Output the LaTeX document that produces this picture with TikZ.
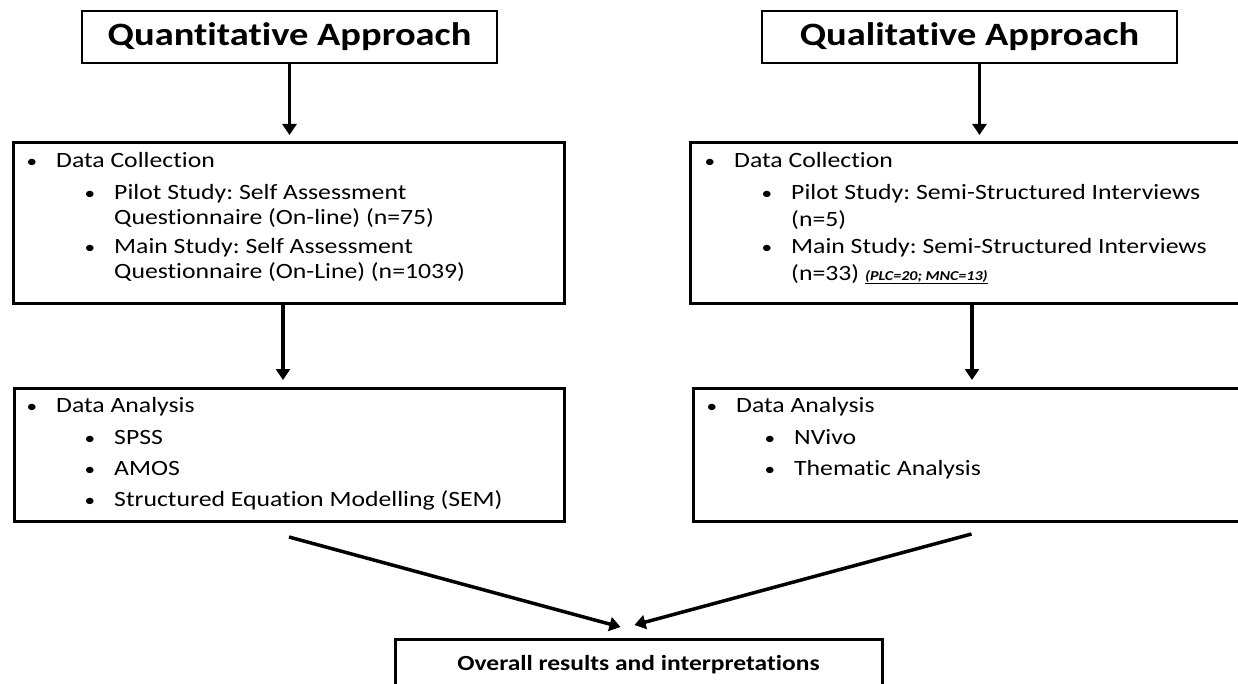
\documentclass[tikz,border=0pt]{standalone}
\usepackage{fontspec}
\setmainfont{Carlito}[FakeStretch=1.18,Ligatures=NoCommon]
\usetikzlibrary{arrows.meta}
\frenchspacing
% bullet followed by its text; #1 name, #2 text x, #3 baseline y, #4 text
\newcommand\listline[4]{%
  \node[dot] (#1-dot) at ({#2-24},#3) {•};
  \node[txt] (#1) at (#2,#3) {#4};}
\begin{document}
\begin{tikzpicture}[x=1pt,y=-1pt,
  headbox/.style={draw,line width=1.6pt,inner sep=0pt,outer sep=0pt,
    minimum width=415pt,minimum height=52pt,anchor=north west,
    font=\fontsize{32.6}{38}\selectfont\bfseries},
  listbox/.style={draw,line width=3pt,inner sep=0pt,outer sep=0pt,anchor=north west},
  txt/.style={anchor=base west,inner sep=0pt,font=\fontsize{21.8}{26}\selectfont},
  dot/.style={anchor=base,inner sep=0pt,font=\fontsize{18}{22}\selectfont},
  flow/.style={line width=3.5pt,-{Triangle[width=14pt,length=11pt]}}
]
\useasboundingbox (0,0) rectangle (1238,684);

% heading boxes
\node[headbox] (qnh) at (82,11) {Quantitative Approach};
\node[headbox] (qlh) at (762,11) {Qualitative Approach};

% collection and analysis boxes
\node[listbox,minimum width=551pt,minimum height=160pt] (qnc) at (13,143) {};
\node[listbox,minimum width=560pt,minimum height=160pt] (qlc) at (690,143) {};
\node[listbox,minimum width=550pt,minimum height=133pt] (qna) at (14,388) {};
\node[listbox,minimum width=557pt,minimum height=133pt] (qla) at (693,388) {};

% results box
\node[listbox,minimum width=487pt,minimum height=60pt] (res) at (395,639) {};
\node[anchor=base,inner sep=0pt,font=\fontsize{21.6}{26}\selectfont\bfseries]
  (restxt) at ([yshift=-31pt]res.north) {Overall results and interpretations};

% quantitative column text
\listline{a1}{56}{168}{Data Collection}
\listline{a2}{114}{200}{Pilot Study: Self Assessment}
\node[txt] (a2b) at (114,225) {Questionnaire (On-line) (n=75)};
\listline{a3}{114}{254}{Main Study: Self Assessment}
\node[txt] (a3b) at (114,279) {Questionnaire (On-Line) (n=1039)};

\listline{b1}{56}{412}{Data Analysis}
\listline{b2}{114}{444}{SPSS}
\listline{b3}{114}{475}{AMOS}
\listline{b4}{114}{506}{Structured Equation Modelling (SEM)}

% qualitative column text
\listline{c1}{734}{168}{Data Collection}
\listline{c2}{791}{200}{Pilot Study: Semi-Structured Interviews}
\node[txt] (c2b) at (791,227) {(n=5)};
\listline{c3}{791}{254}{Main Study: Semi-Structured Interviews}
\node[txt] (c3b) at (791,280) {(n=33) {\fontsize{13.6}{16}\selectfont\bfseries\itshape\underline{(PLC=20; MNC=13)}}};

\listline{d1}{736}{412}{Data Analysis}
\listline{d2}{794}{444}{NVivo}
\listline{d3}{794}{475}{Thematic Analysis}

% connectors
\draw[flow,shorten >=8pt] (qnh.south) -- (qnh.south |- qnc.north);
\draw[flow,shorten >=8pt] ([xshift=10pt]qlh.south) -- ([xshift=10pt]qlh.south |- qlc.north);
\draw[flow,shorten >=8pt] ([xshift=-5.5pt]qnc.south) -- ([xshift=-5.5pt]qnc.south |- qna.north);
\draw[flow,shorten >=8pt] ([xshift=2pt]qlc.south) -- ([xshift=2pt]qlc.south |- qla.north);
\draw[flow] ([yshift=-16pt]qna.south) -- ([shift={(-18pt,12pt)}]res.north);
\draw[flow] ([yshift=-13pt]qla.south) -- ([shift={(-4pt,14pt)}]res.north);
\end{tikzpicture}
\end{document}
